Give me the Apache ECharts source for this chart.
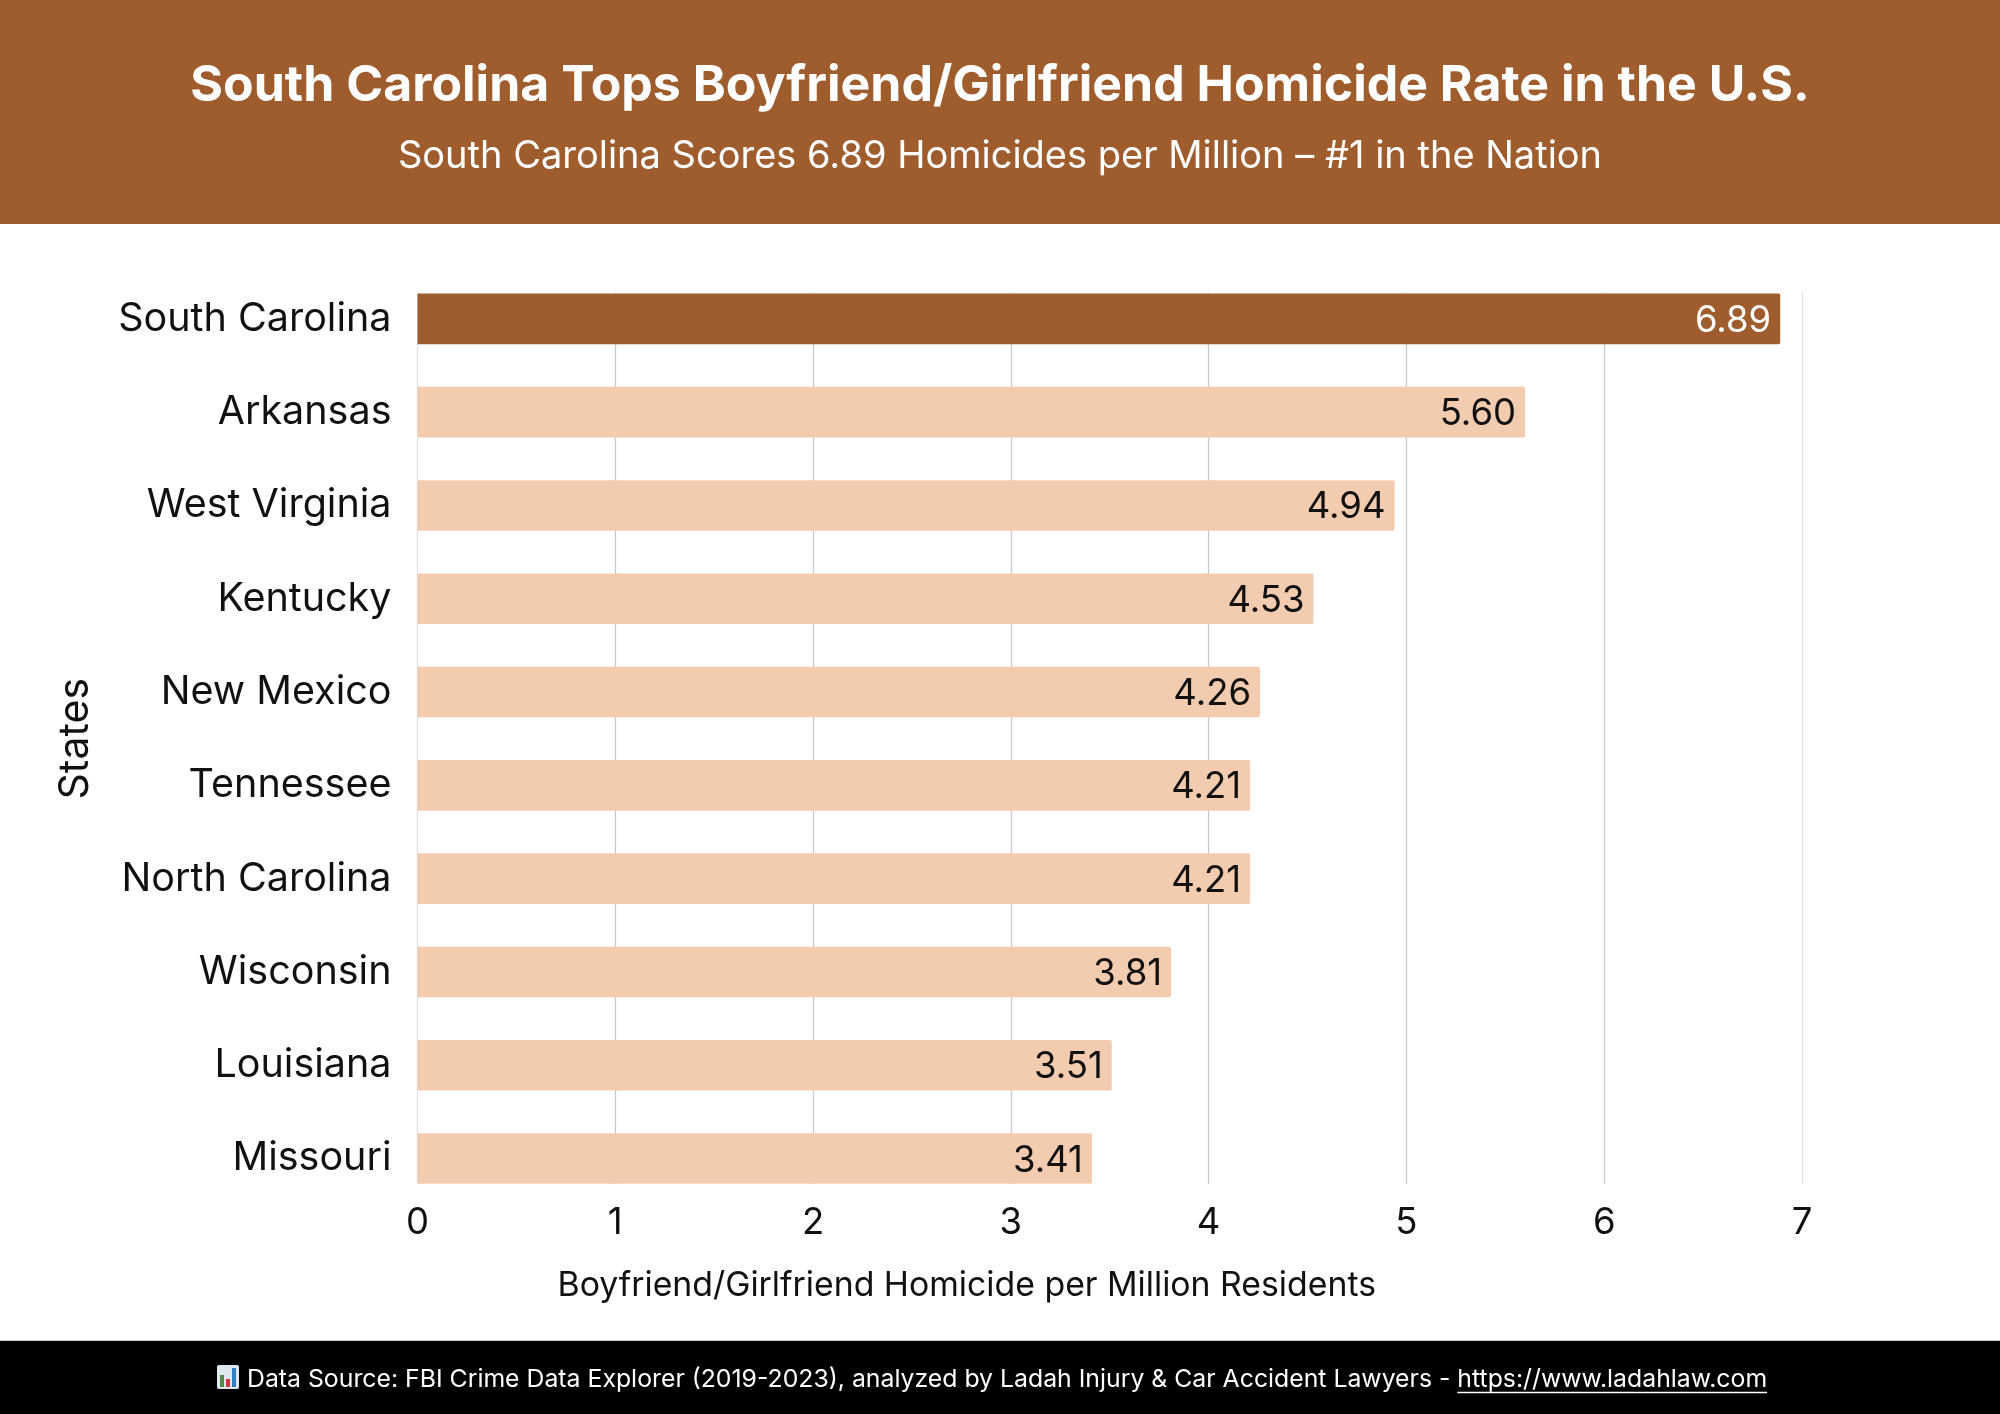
<!DOCTYPE html>
<html><head><meta charset="utf-8">
<style>html,body{margin:0;padding:0;background:#fff}#c{width:2000px;height:1414px}</style>
<script src="https://cdn.jsdelivr.net/npm/echarts@6/dist/echarts.min.js"></script>
</head><body><div id="c"></div>
<script>
const states = ['South Carolina','Arkansas','West Virginia','Kentucky','New Mexico','Tennessee','North Carolina','Wisconsin','Louisiana','Missouri'];
const rates = [6.89,5.60,4.94,4.53,4.26,4.21,4.21,3.81,3.51,3.41];
const titleText = 'South Carolina Tops Boyfriend/Girlfriend Homicide Rate in the U.S.';
const subtitleText = 'South Carolina Scores 6.89 Homicides per Million \u2013 #1 in the Nation';
const xName = 'Boyfriend/Girlfriend Homicide per Million Residents';
const yName = 'States';
const footerText = 'Data Source: FBI Crime Data Explorer (2019-2023), analyzed by Ladah Injury & Car Accident Lawyers - ';
const footerLink = 'https://www.ladahlaw.com';
const BROWN='#9f5d2e', PEACH='#f3ccb0', FONT='Inter, "Open Sans", sans-serif';
const chart = echarts.init(document.getElementById('c'),null,{renderer:'canvas',width:2000,height:1414});
const footY=1379.5, footX=247, footSize=24.8;
const ctx=document.createElement('canvas').getContext('2d');
ctx.font=`400 ${footSize}px Inter`;
const w1=ctx.measureText(footerText).width, w2=ctx.measureText(footerLink).width;
chart.setOption({
  animation:false,
  backgroundColor:'#fff',
  textStyle:{fontFamily:FONT},
  grid:[
    {left:417.5,width:1384.5,top:272.2,height:933,containLabel:false},
    {left:417.5,width:1384.5,top:293,height:891,containLabel:false}
  ],
  xAxis:[
    {gridIndex:0,type:'value',min:0,max:7,interval:1,show:false},
    {gridIndex:1,type:'value',min:0,max:7,interval:1,
     axisLine:{show:false},axisTick:{show:false},
     axisLabel:{fontSize:36.5,color:'#111',margin:21,fontFamily:FONT},
     splitLine:{show:true,lineStyle:{color:['#e0e0e0','#c9c9c9','#c9c9c9','#c9c9c9','#c9c9c9','#c9c9c9','#c9c9c9','#e0e0e0'],width:1.3}},
     name:xName,nameLocation:'middle',nameGap:85,
     nameTextStyle:{fontSize:33.8,color:'#111',fontFamily:FONT,padding:[0,286,0,0]}}
  ],
  yAxis:[
    {gridIndex:0,type:'category',data:states,inverse:true,
     axisLine:{show:false},axisTick:{show:false},
     axisLabel:{fontSize:39.5,color:'#111',margin:26,fontFamily:FONT,padding:[0,0,6,0]},
     name:yName,nameLocation:'middle',nameGap:321,nameRotate:90,
     nameTextStyle:{fontSize:41,color:'#111',fontFamily:FONT}},
    {gridIndex:1,type:'category',data:states,inverse:true,show:false}
  ],
  series:[{
    type:'bar',xAxisIndex:0,yAxisIndex:0,barWidth:50.6,
    data:rates.map((v,i)=>({value:v,
      itemStyle:{color:i===0?BROWN:PEACH,borderRadius:[0,2,2,0]},
      label:{color:i===0?'#fff':'#111'}})),
    label:{show:true,position:'insideRight',distance:9,offset:[0,2],fontSize:36.5,fontFamily:FONT,
      formatter:p=>p.value.toFixed(2)}
  }],
  graphic:[
    {type:'rect',silent:true,z:10,shape:{x:0,y:0,width:2000,height:224},style:{fill:BROWN}},
    {type:'text',silent:true,z:11,x:1000,y:85.5,style:{text:titleText,fill:'#fff',font:`700 50px ${FONT}`,textAlign:'center',textVerticalAlign:'middle'}},
    {type:'text',silent:true,z:11,x:1000,y:157,style:{text:subtitleText,fill:'#fff',font:`400 38px ${FONT}`,textAlign:'center',textVerticalAlign:'middle'}},
    {type:'rect',silent:true,z:10,shape:{x:0,y:1340,width:2000,height:74},style:{fill:'#c8c8c8'}},
    {type:'rect',silent:true,z:10,shape:{x:0,y:1341,width:2000,height:73},style:{fill:'#000'}},
    {type:'rect',silent:true,z:11,shape:{x:217,y:1365,width:22,height:24,r:2},style:{fill:'#dfe8ee'}},
    {type:'rect',silent:true,z:12,shape:{x:220,y:1375,width:4,height:12},style:{fill:'#4f8a4c'}},
    {type:'rect',silent:true,z:12,shape:{x:226,y:1379,width:4,height:8},style:{fill:'#d2363f'}},
    {type:'rect',silent:true,z:12,shape:{x:232,y:1368,width:4,height:19},style:{fill:'#2f7fc1'}},
    {type:'text',silent:true,z:11,x:footX,y:footY,style:{text:footerText,fill:'#fff',font:`400 ${footSize}px ${FONT}`,textAlign:'left',textVerticalAlign:'middle'}},
    {type:'text',silent:true,z:11,x:footX+w1,y:footY,style:{text:footerLink,fill:'#fff',font:`400 ${footSize}px ${FONT}`,textAlign:'left',textVerticalAlign:'middle'}},
    {type:'line',silent:true,z:11,shape:{x1:footX+w1,y1:footY+13,x2:footX+w1+w2,y2:footY+13},style:{stroke:'#fff',lineWidth:1.5}}
  ]
});
</script></body></html>
